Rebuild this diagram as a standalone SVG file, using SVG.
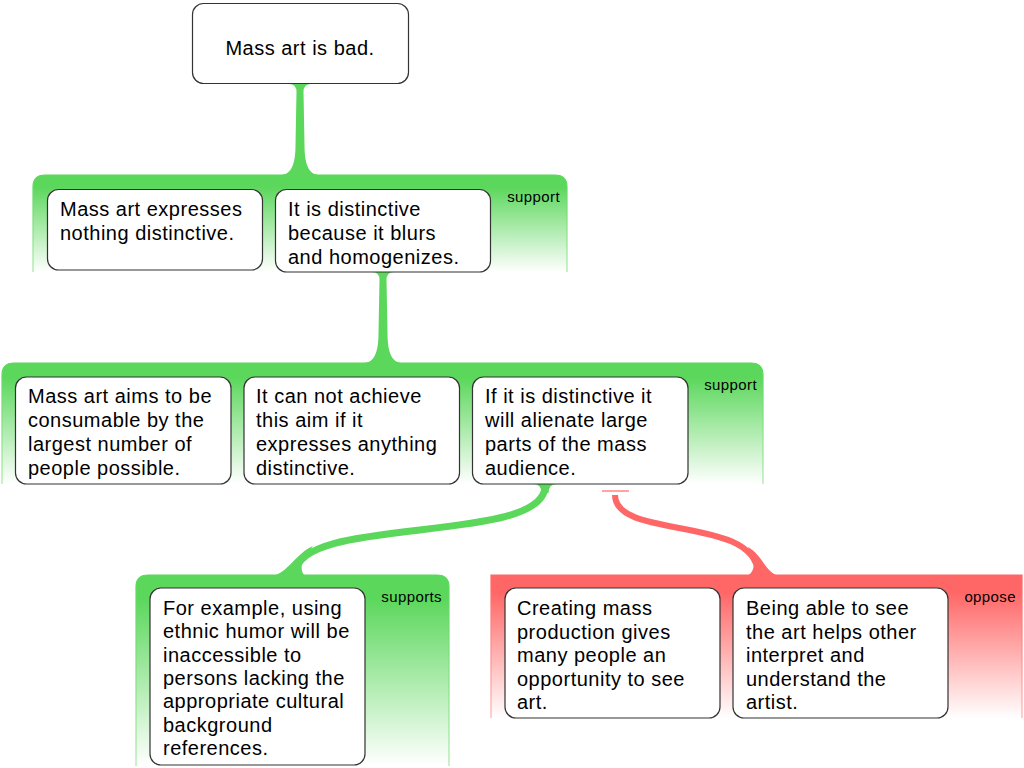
<svg xmlns="http://www.w3.org/2000/svg" width="1024" height="768" viewBox="0 0 1024 768">
<defs>
<linearGradient id="gFill" x1="0" y1="0" x2="0" y2="1">
<stop offset="0" stop-color="#5bd75b"/><stop offset="0.12" stop-color="#5bd75b"/><stop offset="1" stop-color="#ffffff"/>
</linearGradient>
<linearGradient id="gLine" x1="0" y1="0" x2="0" y2="1">
<stop offset="0" stop-color="#5bd75b"/><stop offset="1" stop-color="#a6e9a6"/>
</linearGradient>
<linearGradient id="rFill" x1="0" y1="0" x2="0" y2="1">
<stop offset="0" stop-color="#ff6666"/><stop offset="0.12" stop-color="#ff6666"/><stop offset="1" stop-color="#ffffff"/>
</linearGradient>
<linearGradient id="rLine" x1="0" y1="0" x2="0" y2="1">
<stop offset="0" stop-color="#ff6666"/><stop offset="1" stop-color="#ffb0b0"/>
</linearGradient>
<style>
.node rect{fill:#ffffff;stroke:#333333;stroke-width:1.2}
.t{font-family:"Liberation Sans",Arial,sans-serif;font-size:20px;letter-spacing:0.5px;fill:#000000}
.lbl{font-family:"Liberation Sans",Arial,sans-serif;font-size:15px;letter-spacing:0.4px;fill:#000000;text-anchor:end}
.gband{fill:url(#gFill)}
.gedge{fill:none;stroke:url(#gLine);stroke-width:1.2}
.rband{fill:url(#rFill)}
.redge{fill:none;stroke:url(#rLine);stroke-width:1.2}
.gc{fill:#5bd75b}
.gs{fill:none;stroke:#5bd75b;stroke-width:7}
.rc{fill:#ff6666}
.rs{fill:none;stroke:#ff6666;stroke-width:6}
</style>
</defs>
<rect width="1024" height="768" fill="#ffffff"/>

<g id="group-support-1">
<path class="gband" d="M33,272 V187 Q33,175 45,175 H555 Q567,175 567,187 V272 Z"/>
<path class="gedge" d="M33,272 V187 Q33,175 45,175 H555 Q567,175 567,187 V272"/>
<text class="lbl" x="560" y="202">support</text>
</g>
<g id="group-support-2">
<path class="gband" d="M2,484 V375 Q2,363 14,363 H751 Q763,363 763,375 V484 Z"/>
<path class="gedge" d="M2,484 V375 Q2,363 14,363 H751 Q763,363 763,375 V484"/>
<text class="lbl" x="757" y="390">support</text>
</g>
<g id="group-supports-3">
<path class="gband" d="M136,766 V587 Q136,575 148,575 H437 Q449,575 449,587 V766 Z"/>
<path class="gedge" d="M136,766 V587 Q136,575 148,575 H437 Q449,575 449,587 V766"/>
<text class="lbl" x="442" y="602">supports</text>
</g>
<g id="group-oppose">
<path class="rband" d="M491,718 V575 H1022 V718 Z"/>
<path class="redge" d="M491,718 V575 H1022 V718"/>
<text class="lbl" x="1016" y="602">oppose</text>
</g>

<g id="connectors">
<path class="gc" d="M289,84 Q296.5,84 296.5,92 L295.5,145 C295.5,167 290,175 280,175 L320,175 C310,175 304.5,167 304.5,145 L303.5,92 Q303.5,84 311,84 Z"/>
<path class="gc" d="M372,272 Q379.5,272 379.5,280 L378.5,333 C378.5,355 373,363 363,363 L403,363 C393,363 387.5,355 387.5,333 L386.5,280 Q386.5,272 394,272 Z"/>
<path class="gs" d="M545,486 C545,545 296,515 296,573"/>
<path class="gc" d="M533,484 Q541.5,484 541.5,493 L548.5,493 Q548.5,484 557,484 Z"/>
<path class="gc" d="M270,576 C286,576 296,553 313,546 L302,562 C301,570 302,576 308,576 Z"/>
<line x1="602" y1="491" x2="629" y2="491" stroke="#ff6666" stroke-width="1.2"/>
<path class="rs" d="M615,495 C615,540 755,515 758,573"/>
<path class="rc" d="M744,576 C751,576 754,570 754,562 L748,547 C764,556 766,576 782,576 Z"/>
</g>

<g id="node-root" class="node">
<rect x="192.5" y="3.5" width="216" height="80" rx="11"/>
<text class="t" x="300" y="55" text-anchor="middle">Mass art is bad.</text>
</g>
<g id="node-expresses-nothing" class="node">
<rect x="47.5" y="189.5" width="215" height="80.5" rx="11"/>
<text class="t" x="60" y="216">Mass art expresses</text>
<text class="t" x="60" y="240">nothing distinctive.</text>
</g>
<g id="node-blurs" class="node">
<rect x="275.5" y="189.5" width="215" height="82.5" rx="11"/>
<text class="t" x="288" y="216">It is distinctive</text>
<text class="t" x="288" y="240">because it blurs</text>
<text class="t" x="288" y="264">and homogenizes.</text>
</g>
<g id="node-consumable" class="node">
<rect x="15.5" y="377" width="215.5" height="107" rx="11"/>
<text class="t" x="28" y="403">Mass art aims to be</text>
<text class="t" x="28" y="427">consumable by the</text>
<text class="t" x="28" y="451">largest number of</text>
<text class="t" x="28" y="475">people possible.</text>
</g>
<g id="node-cannot-achieve" class="node">
<rect x="244" y="377" width="215.5" height="107" rx="11"/>
<text class="t" x="256" y="403">It can not achieve</text>
<text class="t" x="256" y="427">this aim if it</text>
<text class="t" x="256" y="451">expresses anything</text>
<text class="t" x="256" y="475">distinctive.</text>
</g>
<g id="node-alienate" class="node">
<rect x="472.5" y="377" width="215.5" height="107" rx="11"/>
<text class="t" x="485" y="403">If it is distinctive it</text>
<text class="t" x="485" y="427">will alienate large</text>
<text class="t" x="485" y="451">parts of the mass</text>
<text class="t" x="485" y="475">audience.</text>
</g>
<g id="node-ethnic-humor" class="node">
<rect x="150" y="588" width="215" height="177" rx="11"/>
<text class="t" x="163" y="615">For example, using</text>
<text class="t" x="163" y="638.3">ethnic humor will be</text>
<text class="t" x="163" y="661.7">inaccessible to</text>
<text class="t" x="163" y="685">persons lacking the</text>
<text class="t" x="163" y="708.3">appropriate cultural</text>
<text class="t" x="163" y="731.7">background</text>
<text class="t" x="163" y="755">references.</text>
</g>
<g id="node-mass-production" class="node">
<rect x="505" y="588" width="215" height="130" rx="11"/>
<text class="t" x="517" y="615">Creating mass</text>
<text class="t" x="517" y="638.5">production gives</text>
<text class="t" x="517" y="662">many people an</text>
<text class="t" x="517" y="685.5">opportunity to see</text>
<text class="t" x="517" y="709">art.</text>
</g>
<g id="node-see-art" class="node">
<rect x="733" y="588" width="215" height="130" rx="11"/>
<text class="t" x="746" y="615">Being able to see</text>
<text class="t" x="746" y="638.5">the art helps other</text>
<text class="t" x="746" y="662">interpret and</text>
<text class="t" x="746" y="685.5">understand the</text>
<text class="t" x="746" y="709">artist.</text>
</g>
</svg>
